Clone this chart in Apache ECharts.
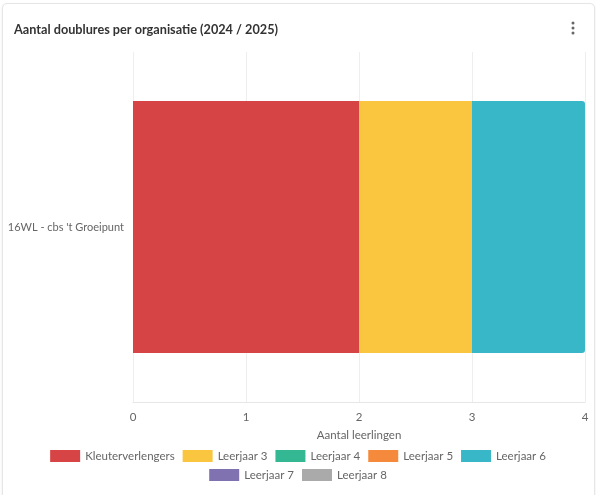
<!DOCTYPE html>
<html><head><meta charset="utf-8">
<script src="https://cdn.jsdelivr.net/npm/echarts@6/dist/echarts.min.js"></script>
<style>
html,body{margin:0;padding:0;background:#fff;width:596px;height:495px;overflow:hidden;}
#card{position:absolute;left:2px;top:3px;width:591px;height:520px;border:1px solid #e6e6e6;border-radius:5px;box-shadow:0 1px 3px rgba(0,0,0,0.08);background:#fff;}
#chart{position:absolute;left:0;top:0;width:596px;height:495px;}
</style></head>
<body>
<div id="card"></div>
<div id="chart"></div>
<script>
const categories = ["16WL - cbs 't Groeipunt"];
const seriesNames = ["Kleuterverlengers","Leerjaar 3","Leerjaar 4","Leerjaar 5","Leerjaar 6","Leerjaar 7","Leerjaar 8"];
const seriesValues = [[2],[1],[0],[0],[1],[0],[0]];
const colors = ["#d74446","#fbc63f","#34b894","#f58a3d","#38b7c9","#8072b0","#aaaaaa"];
const xTicks = [0,1,2,3,4];
const font = "Lato";

const chart = echarts.init(document.getElementById('chart'));
const lastNonZero = 4;
const legendBase = {left:'center',itemWidth:30,itemHeight:12,itemGap:8,icon:'rect',padding:0,
  textStyle:{fontSize:11.5,color:'#666',fontFamily:font}};
chart.setOption({
  animation:false,
  color: colors,
  textStyle:{fontFamily:font},
  title:{text:"Aantal doublures per organisatie (2024 / 2025)",left:9,top:18,
    textStyle:{fontSize:12.7,fontWeight:'bold',color:'#333',fontFamily:font}},
  graphic:[
    {type:'circle',shape:{cx:573,cy:23,r:1.5},style:{fill:'#666'}},
    {type:'circle',shape:{cx:573,cy:28,r:1.5},style:{fill:'#666'}},
    {type:'circle',shape:{cx:573,cy:33,r:1.5},style:{fill:'#666'}}
  ],
  grid:{left:133,right:11,top:52,bottom:93,containLabel:false,outerBoundsMode:'none'},
  legend:[
    Object.assign({},legendBase,{data:seriesNames.slice(0,5),top:450}),
    Object.assign({},legendBase,{data:seriesNames.slice(5),top:469})
  ],
  xAxis:{type:'value',min:xTicks[0],max:xTicks[xTicks.length-1],interval:1,
    name:'Aantal leerlingen',nameLocation:'middle',nameGap:27,
    nameTextStyle:{fontSize:11.5,color:'#666'},
    axisLine:{show:true,lineStyle:{color:'#e6e6e6'}},
    axisTick:{show:false},
    axisLabel:{color:'#666',fontSize:11.5,margin:9},
    splitLine:{lineStyle:{color:'#eeeeee'}}},
  yAxis:{type:'category',data:categories,
    axisLine:{show:false},axisTick:{show:false},
    axisLabel:{color:'#666',fontSize:11,margin:9}},
  series: seriesNames.map((n,i)=>({
    name:n,type:'bar',stack:'total',barWidth:'72%',
    data: seriesValues[i],
    itemStyle:{color:colors[i],borderRadius: i===lastNonZero?[0,3,3,0]:0}
  }))
});
</script>
</body></html>
